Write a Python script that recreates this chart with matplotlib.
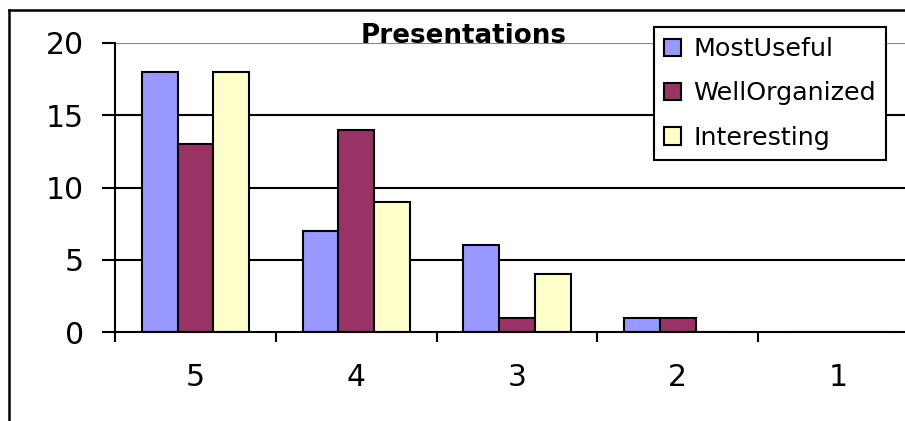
import matplotlib.pyplot as plt
import numpy as np
from matplotlib.lines import Line2D

plt.rcParams['font.family'] = ['DejaVu Sans']

# ratings and vote counts
ratings = ['5', '4', '3', '2', '1']
most_useful = [18, 7, 6, 1, 0]
well_organized = [13, 14, 1, 1, 0]
interesting = [18, 9, 4, 0, 0]

series = [('MostUseful', most_useful, '#9999FF'),
          ('WellOrganized', well_organized, '#993366'),
          ('Interesting', interesting, '#FFFFCC')]

W, H = 905, 421
fig = plt.figure(figsize=(W / 100, H / 100), dpi=100)

# plot area runs past the right edge of the image
left, right, top, bottom = 115, 919, 43, 332
ax = fig.add_axes([left / W, 1 - bottom / H, (right - left) / W, (bottom - top) / H])

x = np.arange(len(ratings))
bw = 0.222
for i, (name, vals, col) in enumerate(series):
    ax.bar(x + (i - 1) * bw, vals, width=bw, color=col, edgecolor='black',
           linewidth=1.5, label=name, zorder=3)

ax.set_xlim(-0.5, len(ratings) - 0.5)
ax.set_ylim(0, 20)
ax.set_yticks([0, 5, 10, 15, 20])
for yv in [5, 10, 15]:
    ax.axhline(yv, color='black', linewidth=1.5, zorder=1)
ax.axhline(20, color='#888888', linewidth=1.5, zorder=1)

# category ticks sit on the boundaries between groups
ax.set_xticks(np.arange(len(ratings) + 1) - 0.5, minor=False)
ax.set_xticklabels([])
ax.set_xticks(x, minor=True)
ax.set_xticklabels(ratings, minor=True)
ax.tick_params(axis='x', which='major', direction='out', length=7.5, width=1.5)
ax.tick_params(axis='x', which='minor', length=0, pad=22, labelsize=21.5)
ax.tick_params(axis='y', direction='out', length=9.5, width=1.5, labelsize=21.5, pad=13)

for s in ['top', 'right']:
    ax.spines[s].set_visible(False)
for s in ['left', 'bottom']:
    ax.spines[s].set_linewidth(1.5)
    ax.spines[s].set_zorder(4)

ax.text(464 / W, 1 - 43 / H, 'Presentations', transform=fig.transFigure,
        ha='center', va='baseline', fontsize=18.8, fontweight='bold', zorder=5)

leg = ax.legend(loc='upper left', bbox_to_anchor=(654 / W, 1 - 27 / H),
                bbox_transform=fig.transFigure, fontsize=18.3, frameon=True,
                fancybox=False, edgecolor='black', framealpha=1,
                handlelength=0.68, handleheight=0.68, handletextpad=0.48,
                labelspacing=0.8, borderpad=0.4, borderaxespad=0)
leg.get_frame().set_linewidth(1.5)
leg.set_zorder(6)

# outer chart frame, cut off by the image on the right and bottom
fig.add_artist(Line2D([9 / W, 9 / W], [0, 1 - 10 / H], color='black', linewidth=1.8,
                      transform=fig.transFigure))
fig.add_artist(Line2D([9 / W, 1], [1 - 10 / H, 1 - 10 / H], color='black', linewidth=1.8,
                      transform=fig.transFigure))

fig.savefig('out.png', dpi=100)
